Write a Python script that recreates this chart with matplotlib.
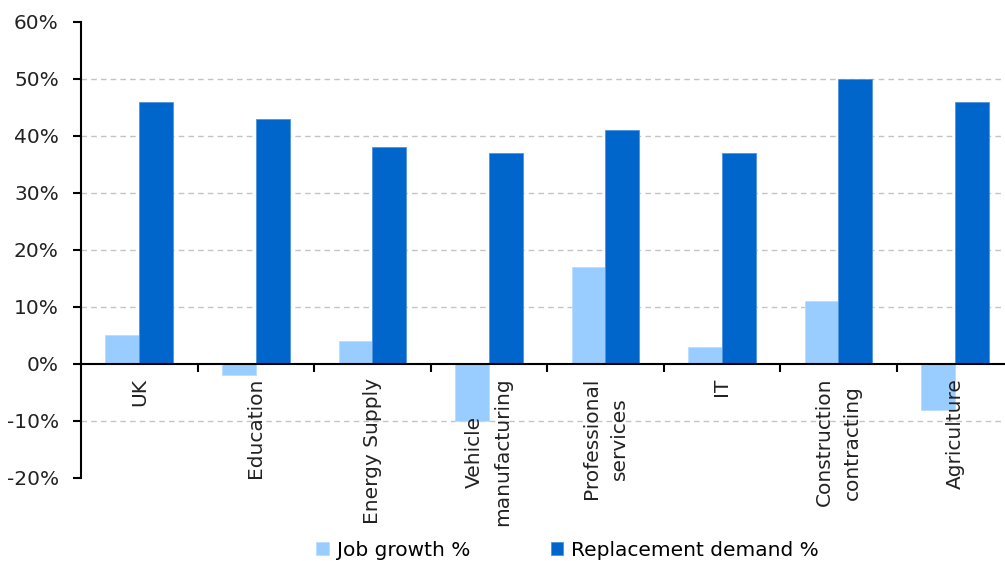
import matplotlib.pyplot as plt
import numpy as np
from matplotlib.ticker import FuncFormatter

categories = ['UK', 'Education', 'Energy Supply', 'Vehicle\nmanufacturing',
              'Professional\nservices', 'IT', 'Construction\ncontracting', 'Agriculture']
job_growth = [5, -2, 4, -10, 17, 3, 11, -8]
replacement = [46, 43, 38, 37, 41, 37, 50, 46]

plt.rcParams['font.family'] = ['DejaVu Sans']
plt.rcParams['font.size'] = 14.5

fig = plt.figure(figsize=(10.05, 5.61), dpi=100)
ax = fig.add_axes([0.0806, 0.148, 0.9194, 0.813])

x = np.arange(len(categories))
w = 0.29
ax.bar(x - w / 2, job_growth, w, color='#99CCFF', edgecolor='#B8DCFF', linewidth=0.6,
       label='Job growth %', zorder=2)
ax.bar(x + w / 2, replacement, w, color='#0066CC', edgecolor='#4F94DB', linewidth=0.6,
       label='Replacement demand %', zorder=2)

ax.set_xlim(-0.5, 7.43)
ax.set_ylim(-20, 60)
ax.set_yticks(range(-20, 61, 10))
ax.yaxis.set_major_formatter(FuncFormatter(lambda v, p: f'{v:.0f}%'))

# dashed gridlines (none on the outer limits or on zero)
for g in [-10, 10, 20, 30, 40, 50]:
    ax.axhline(g, color='#C4C4C4', linestyle=(0, (4, 3)), linewidth=1, zorder=1)

ax.spines['top'].set_visible(False)
ax.spines['right'].set_visible(False)
ax.spines['bottom'].set_position(('data', 0))
ax.spines['left'].set_linewidth(1.5)
ax.spines['bottom'].set_linewidth(1.5)
ax.spines['left'].set_zorder(3)
ax.spines['bottom'].set_zorder(3)

ax.set_xticks(x)
ax.set_xticklabels(categories, rotation=90, ha='center', va='top', multialignment='center',
                   color='#222222', linespacing=1.6)
ax.set_xticks(np.arange(0.5, 7.5, 1), minor=True)
ax.tick_params(axis='x', which='major', length=0, pad=10)
ax.tick_params(axis='x', which='minor', length=6, width=1.5, direction='out')
ax.tick_params(axis='y', length=6, width=1.5, pad=10, labelcolor='#222222')
ax.xaxis.set_zorder(3)

fig.legend(loc='center', bbox_to_anchor=(0.565, 1 - 550 / 561), ncol=2, frameon=False,
           handlelength=0.62, handleheight=0.62, handletextpad=0.4, columnspacing=4.0,
           fontsize=14.5)

fig.savefig('out.png', dpi=100)
